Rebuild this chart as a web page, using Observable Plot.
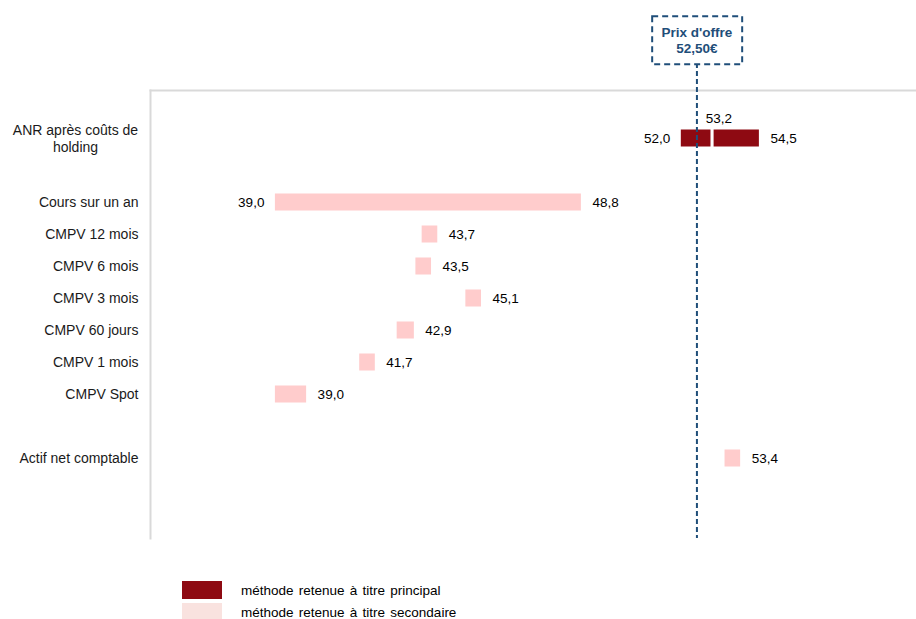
<!DOCTYPE html>
<html><head><meta charset="utf-8">
<script src="https://cdn.jsdelivr.net/npm/d3@7"></script>
<script src="https://cdn.jsdelivr.net/npm/@observablehq/plot@0.6"></script>
<style>
body{margin:0;background:#fff;font-family:"Liberation Sans",Arial,sans-serif;}
#legend{margin-left:182px;margin-top:11px;}
.item{display:flex;align-items:center;height:18px;margin-bottom:4px;font-size:13.5px;color:#000;word-spacing:1.5px}
.sw{width:40px;height:18px;margin-right:19px;flex:none}
</style></head><body><div id="chart"></div><div id="legend"></div>
<script>
const categories = ["ANR après coûts de holding","Cours sur un an","CMPV 12 mois","CMPV 6 mois","CMPV 3 mois","CMPV 60 jours","CMPV 1 mois","CMPV Spot","Actif net comptable"];
const methodType = ["principal","secondaire","secondaire","secondaire","secondaire","secondaire","secondaire","secondaire","secondaire"];
const lows  = [52.0, 39.0, 43.7, 43.5, 45.1, 42.9, 41.7, 39.0, 53.4];
const highs = [54.5, 48.8, 44.2, 44.0, 45.6, 43.45, 42.2, 40.0, 53.9];
const isRange = [true, true, false, false, false, false, false, false, false];
const anrMid = 53.2;
const anrSegments = [[52.0, 52.95], [53.05, 54.5]];
const offerPrice = 52.5;
const offerLabel = "Prix d'offre\n52,50€";
const legendLabels = ["méthode retenue à titre principal", "méthode retenue à titre secondaire"];
const rowOrder = ["gap0", categories[0], "gap1", ...categories.slice(1, 8), "gap2", categories[8], "gap3", "gap4"];

const colors = {principal: "#8E0A12", secondaire: "#FFCCCC"};
const fmt = v => d3.format(".1f")(v).replace(".", ",");

const rows = categories.map((c, i) => ({cat: c, low: lows[i], high: highs[i], type: methodType[i], range: isRange[i]}));
const bars = [];
rows.forEach((r, i) => {
  if (i === 0) anrSegments.forEach(s => bars.push({cat: r.cat, x1: s[0], x2: s[1], type: r.type}));
  else bars.push({cat: r.cat, x1: r.low, x2: r.high, type: r.type});
});
const leftLabels = rows.filter(r => r.range);
const rightLabels = rows.map(r => ({cat: r.cat, x: r.high, text: fmt(r.range ? r.high : r.low)}));

const height = 570;
const chart = Plot.plot({
  width: 916, height,
  marginLeft: 150, marginRight: 1, marginTop: 90, marginBottom: height - 538,
  style: {fontFamily: "'Liberation Sans', Arial, sans-serif", background: "#fff", overflow: "visible"},
  x: {domain: [35, 59.5], axis: null},
  y: {type: "band", domain: rowOrder, padding: 0, axis: null},
  marks: [
    Plot.frame({anchor: "top", stroke: "#D9D9D9", strokeWidth: 2, strokeOpacity: 1}),
    Plot.frame({anchor: "left", stroke: "#D9D9D9", strokeWidth: 2, strokeOpacity: 1}),
    Plot.barX(bars, {y: "cat", x1: "x1", x2: "x2", fill: d => colors[d.type], insetTop: 7.5, insetBottom: 7.5}),
    Plot.ruleX([offerPrice], {stroke: "#1F4E79", strokeWidth: 2, strokeDasharray: "5,3", insetTop: -27}),
    Plot.text(leftLabels, {y: "cat", x: "low", text: d => fmt(d.low), textAnchor: "end", dx: -11, fontSize: 13.5, fill: "#000"}),
    Plot.text(rightLabels, {y: "cat", x: "x", text: "text", textAnchor: "start", dx: 11, fontSize: 13.5, fill: "#000"}),
    Plot.text([anrMid], {y: [categories[0]], x: d => d, text: d => fmt(d), dy: -20, fontSize: 13.5, fill: "#000"}),
    Plot.text(categories.slice(1), {y: d => d, text: d => d, frameAnchor: "left", textAnchor: "end", dx: -12, fontSize: 14, fill: "#1a1a1a"}),
    Plot.text([categories[0]], {y: d => d, text: () => "ANR après coûts de\nholding", frameAnchor: "left", textAnchor: "middle", dx: -75, fontSize: 14, lineHeight: 1.21, fill: "#1a1a1a"}),
    Plot.text([offerLabel], {x: () => offerPrice, text: d => d, frameAnchor: "top", dy: -51, lineAnchor: "middle", lineHeight: 1.2, fontSize: 13.5, fontWeight: "bold", fill: "#1F4E79"})
  ]
});
document.getElementById("chart").appendChild(chart);

// dashed box around the offer label
d3.select(chart).selectAll("text").filter(function() { return this.textContent.includes("Prix"); }).each(function() {
  const b = this.getBBox();
  const cx = b.x + b.width / 2, cy = b.y + b.height / 2;
  d3.select(this.parentNode).insert("rect", () => this)
    .attr("transform", this.getAttribute("transform"))
    .attr("x", cx - 45).attr("y", cy - 24).attr("width", 90).attr("height", 48)
    .attr("fill", "#fff").attr("stroke", "#1F4E79").attr("stroke-width", 2).attr("stroke-dasharray", "6,4");
});

const legend = d3.select("#legend");
[["principal", legendLabels[0]], ["secondaire", legendLabels[1]]].forEach(([t, l], i) => {
  const it = legend.append("div").attr("class", "item");
  it.append("div").attr("class", "sw").style("background", i === 0 ? colors.principal : "#F9E2DF");
  it.append("span").text(l);
});
</script></body></html>
